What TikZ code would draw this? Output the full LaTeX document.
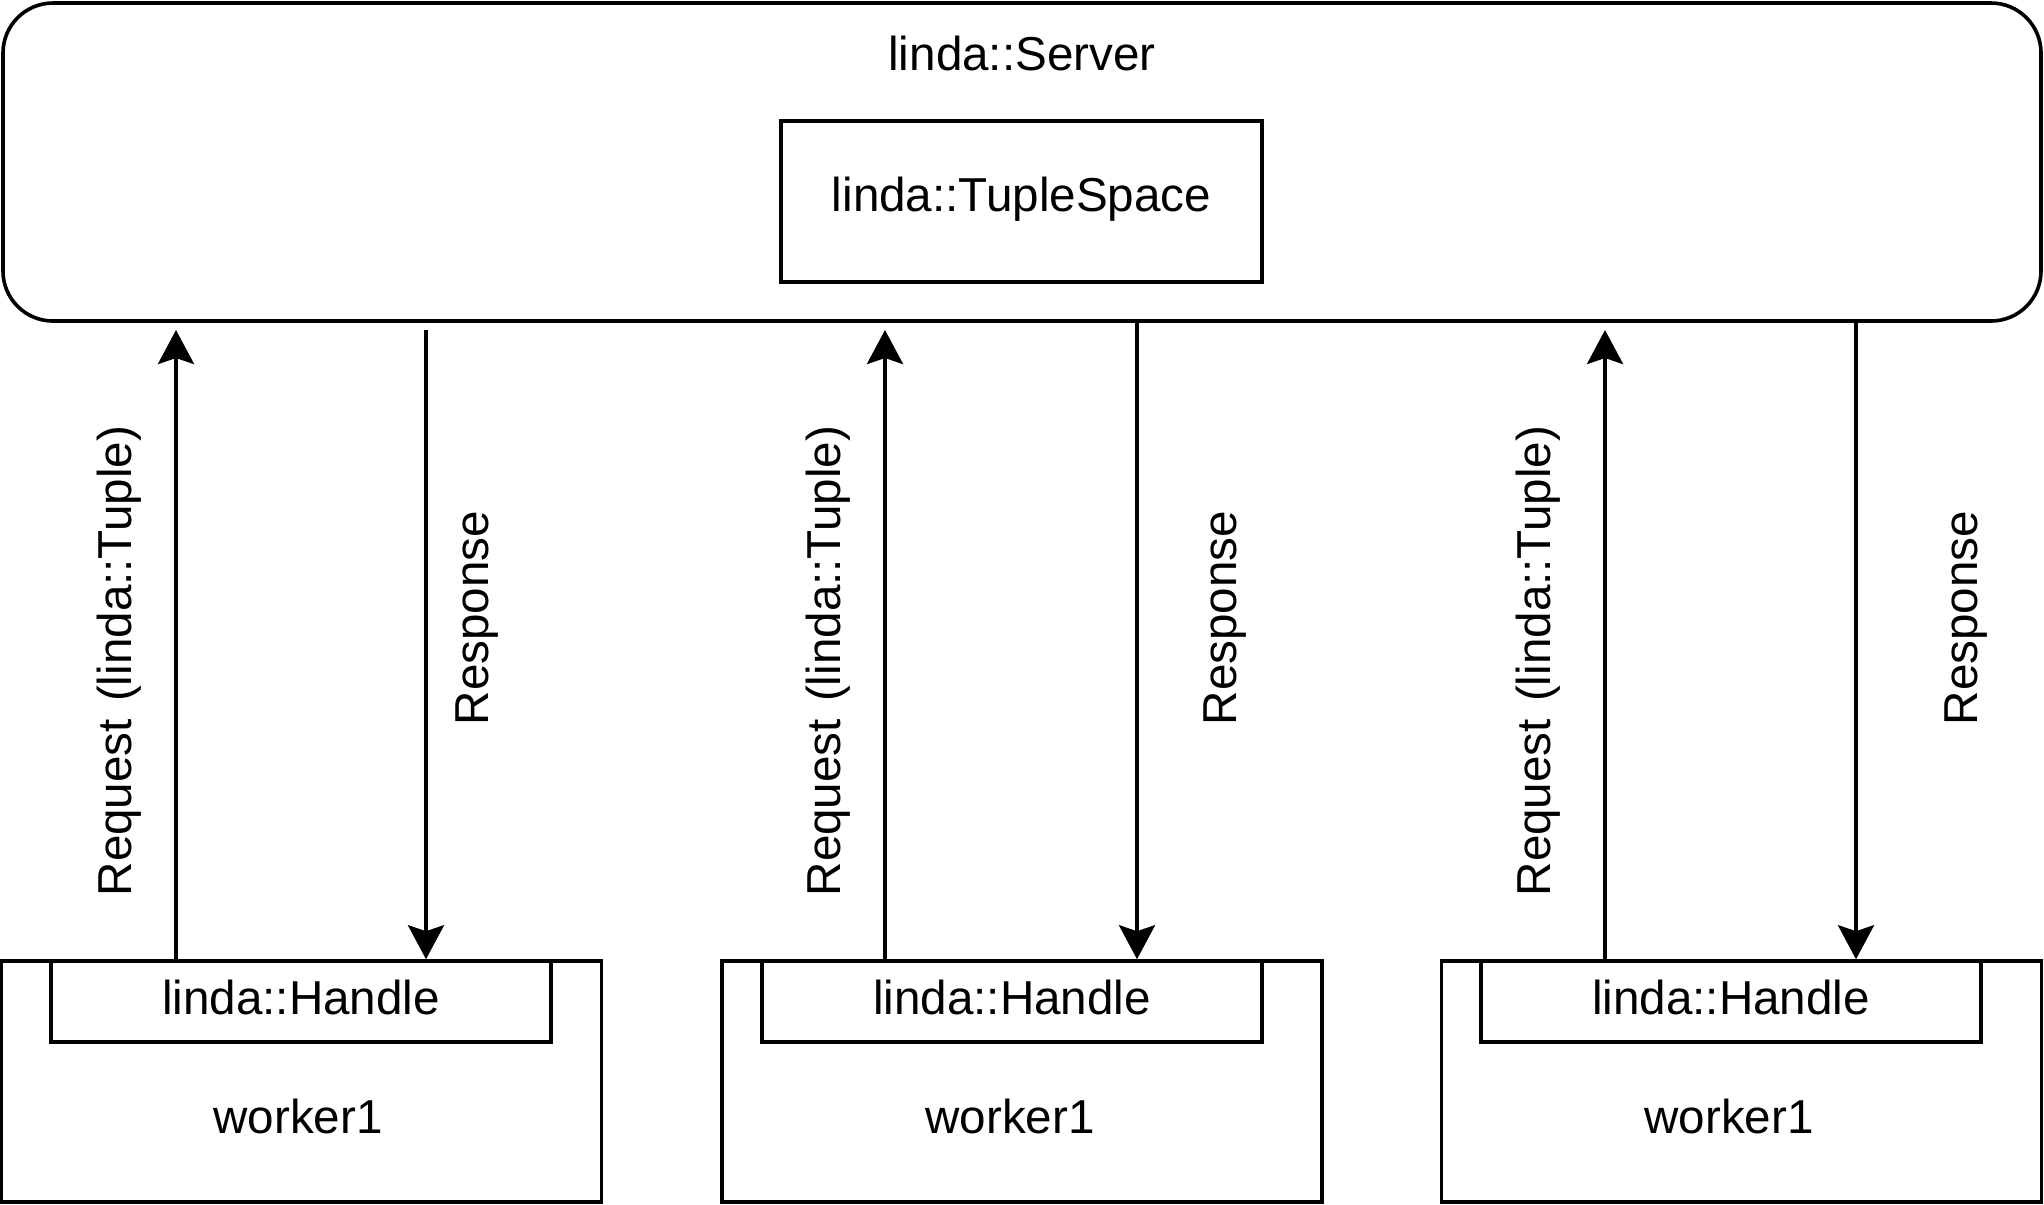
\documentclass[tikz,border=0pt]{standalone}
\usepackage{fontspec}
\setmainfont{Liberation Sans}
\usetikzlibrary{arrows.meta, positioning}

\begin{document}
\begin{tikzpicture}[x=0.25pt,y=-0.25pt,
    box/.style={draw,line width=.9pt,inner sep=0pt},
    flow/.style={-{Stealth[length=8.5pt,width=9pt,inset=1.5pt]},line width=1pt}]
  \fontsize{11.9}{14}\selectfont
  \useasboundingbox (0,0) rectangle (2044,1204);

    % server with its tuple space
    \node[box,rounded corners=12.5pt,minimum width=509.5pt,minimum height=79.5pt] (server) at (1022,162) {};
    \node (srvname) at (1022,53) {linda::Server};
    \node[box,text depth=3.8pt,minimum width=120.25pt,minimum height=40.25pt] (space) at (1021.5,201.5) {linda::TupleSpace};

    % workers and their handles
    \node[box,minimum width=150pt,minimum height=60.25pt] (worker1) at (301.5,1081.5) {};
    \node[box,minimum width=150pt,minimum height=60.25pt] (worker2) at (1022,1081.5) {};
    \node[box,minimum width=150pt,minimum height=60.25pt] (worker3) at (1741.5,1081.5) {};

    \node[box,text depth=2.2pt,minimum width=125pt,minimum height=20.25pt] (handle1) at (301,1001.5) {linda::Handle};
    \node[box,text depth=2.2pt,minimum width=125pt,minimum height=20.25pt] (handle2) at (1012,1001.5) {linda::Handle};
    \node[box,text depth=2.2pt,minimum width=125pt,minimum height=20.25pt] (handle3) at (1731,1001.5) {linda::Handle};

    \node (wname1) at (298,1116) {worker1};
    \node (wname2) at (1010,1116) {worker1};
    \node (wname3) at (1729,1116) {worker1};

    % arrow ends below the server
    \coordinate (req1) at (176,330);
    \coordinate (req2) at (885,330);
    \coordinate (req3) at (1605,330);
    \coordinate (rsp1) at (426,330);
    \coordinate (rsp2) at (1137,330);
    \coordinate (rsp3) at (1856,330);

    % requests (up) and responses (down)
    \draw[flow] (handle1.north -| req1) -- (req1);
    \draw[flow] (handle2.north -| req2) -- (req2);
    \draw[flow] (handle3.north -| req3) -- (req3);

    \draw[flow] (rsp1) -- (rsp1 |- handle1.north);
    \draw[flow] (server.south -| rsp2) -- (rsp2 |- handle2.north);
    \draw[flow] (server.south -| rsp3) -- (rsp3 |- handle3.north);

    % labels
    \node[rotate=90] (reqlbl1) at (119,661) {Request\hspace{1pt} (linda::Tuple)};
    \node[rotate=90] (reqlbl2) at (828,661) {Request\hspace{1pt} (linda::Tuple)};
    \node[rotate=90] (reqlbl3) at (1538,661) {Request\hspace{1pt} (linda::Tuple)};
    \node[rotate=90] (rsplbl1) at (477,618) {Response};
    \node[rotate=90] (rsplbl2) at (1225,618) {Response};
    \node[rotate=90] (rsplbl3) at (1966,618) {Response};

\end{tikzpicture}
\end{document}
